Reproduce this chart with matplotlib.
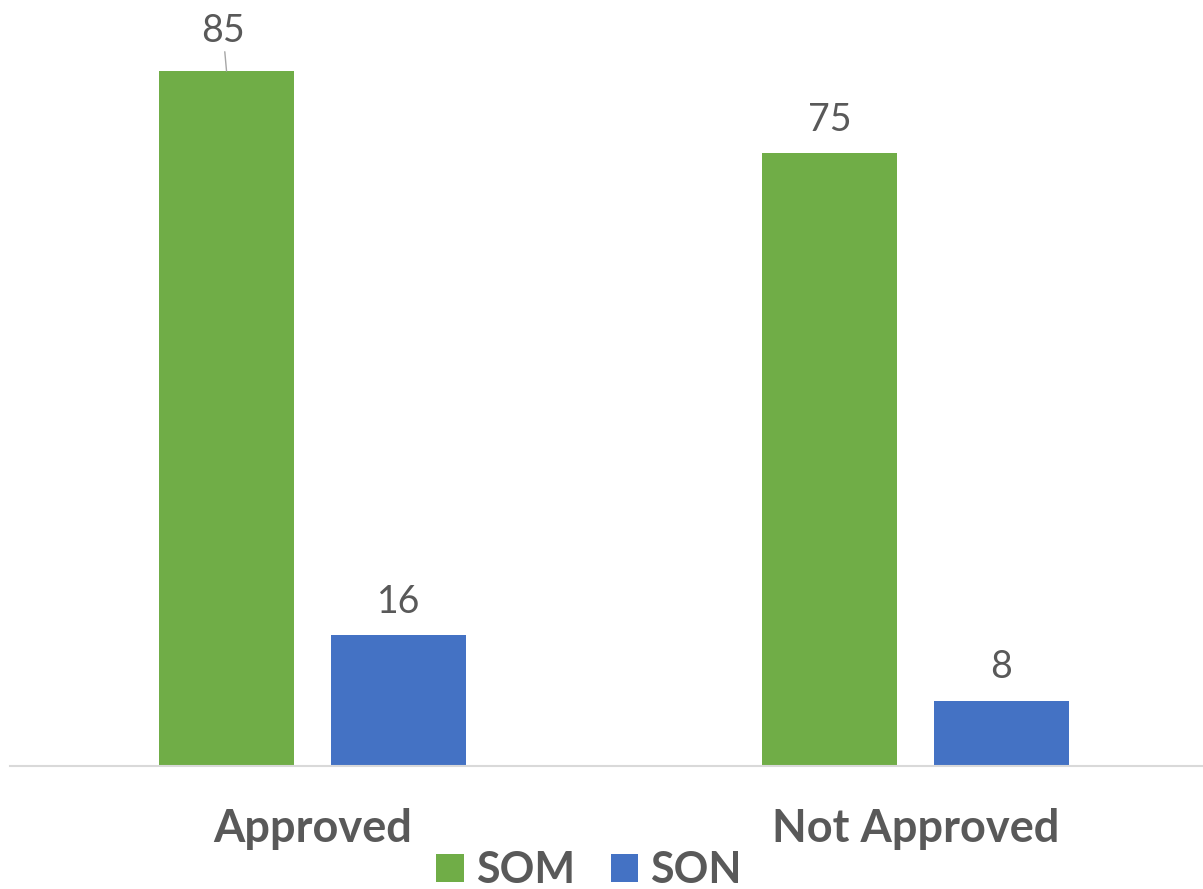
import matplotlib
matplotlib.use("Agg")
import matplotlib.pyplot as plt
import numpy as np

categories = ["Approved", "Not Approved"]
series_names = ["SOM", "SON"]
som_values = [85, 75]
son_values = [16, 8]
colors = ["#70AD47", "#4472C4"]
text_color = "#595959"

plt.rcParams['font.family'] = ['Lato', 'DejaVu Sans']

fig = plt.figure(figsize=(12.03, 8.89), dpi=100)
ax = fig.add_axes([10/1203, (889-766)/889, 1 - 10/1203, 766/889])

x = np.arange(len(categories))
w = 0.224
off = 0.1426
b1 = ax.bar(x - off, som_values, w, color=colors[0], label=series_names[0])
b2 = ax.bar(x + off, son_values, w, color=colors[1], label=series_names[1])

ax.set_xlim(-0.5017, 1.4768)
ax.set_ylim(0, 766/8.176)

for spine in ["top", "right", "left"]:
    ax.spines[spine].set_visible(False)
ax.spines["bottom"].set_color("#D9D9D9")
ax.spines["bottom"].set_linewidth(1.5)
ax.set_yticks([])
ax.set_xticks(x)
ax.set_xticklabels(categories, fontsize=32.5, fontweight="bold", color=text_color)
ax.tick_params(axis="x", length=0, pad=30)

for bars, vals in [(b1, som_values), (b2, son_values)]:
    for i, (rect, v) in enumerate(zip(bars, vals)):
        cx = rect.get_x() + rect.get_width()/2
        if v == max(som_values):
            ax.annotate(str(v), xy=(cx, v), xytext=(cx - 0.006, v + 2.7),
                        ha="center", va="bottom", fontsize=27, color=text_color,
                        arrowprops=dict(arrowstyle="-", color="#A6A6A6", lw=1,
                                        shrinkA=0, shrinkB=0),
                        annotation_clip=False)
        else:
            ax.annotate(str(v), xy=(cx, v), xytext=(0, 11), textcoords="offset points",
                        ha="center", va="bottom", fontsize=27, color=text_color)

leg = fig.legend(handles=[b1, b2], labels=series_names, loc="center",
                 bbox_to_anchor=(0.4896, 0.021), ncol=2, frameon=False,
                 prop={"size": 31}, handlelength=0.63,
                 handleheight=0.63, handletextpad=0.28, columnspacing=0.84,
                 borderpad=0, borderaxespad=0)
for t in leg.get_texts():
    t.set_color(text_color)
    t.set_fontweight("bold")

fig.savefig("out.png", dpi=100)
